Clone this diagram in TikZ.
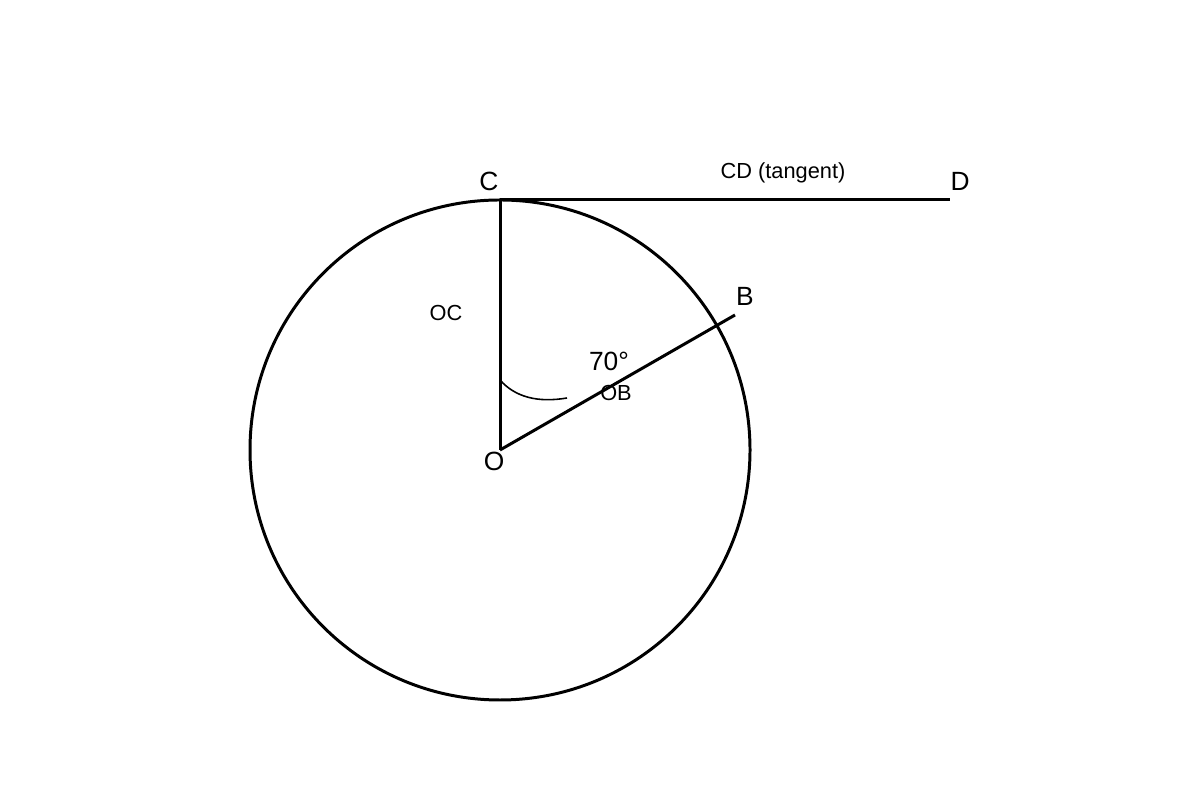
\documentclass[tikz,border=0pt]{standalone}
\usepackage{fontspec}
\setmainfont{Liberation Sans}
\usetikzlibrary{positioning}

\begin{document}
\begin{tikzpicture}[
geom/.style = {draw = black, line width = 1.7pt},
anglearc/.style = {draw = black, line width = 0.9pt},
ptlabel/.style = {font = \fontsize{15}{17}\selectfont, inner sep = 0pt},
seglabel/.style = {font = \fontsize{12.4}{14}\selectfont, inner sep = 0pt},
]
\useasboundingbox (0,0) rectangle (24,16);

\coordinate (O) at (10,7);
\coordinate (C) at (10,12);
\coordinate (D) at (19,12);
\coordinate (B) at (14.7,9.7);

\draw[geom] (O) circle (5);
\path[geom] (C) edge (D);
\path[geom] (O) edge (C);
\path[geom] (O) edge (B);
\draw[anglearc] (10,8.4) .. controls (10.3,8.06) and (10.75,7.94) .. (11.34,8.04);

\node[ptlabel] (lC) at (9.78,12.38) {C};
\node[ptlabel] (lD) at (19.2,12.38) {D};
\node[ptlabel] (lB) at (14.9,10.08) {B};
\node[ptlabel] (lO) at (9.88,6.78) {O};
\node[ptlabel] (ang) at (12.18,8.78) {70°};
\node[seglabel] (lOC) at (8.92,9.74) {OC};
\node[seglabel] (lOB) at (12.32,8.14) {OB};
\node[seglabel] (lCD) at (15.66,12.54) {CD (tangent)};
\end{tikzpicture}
\end{document}
